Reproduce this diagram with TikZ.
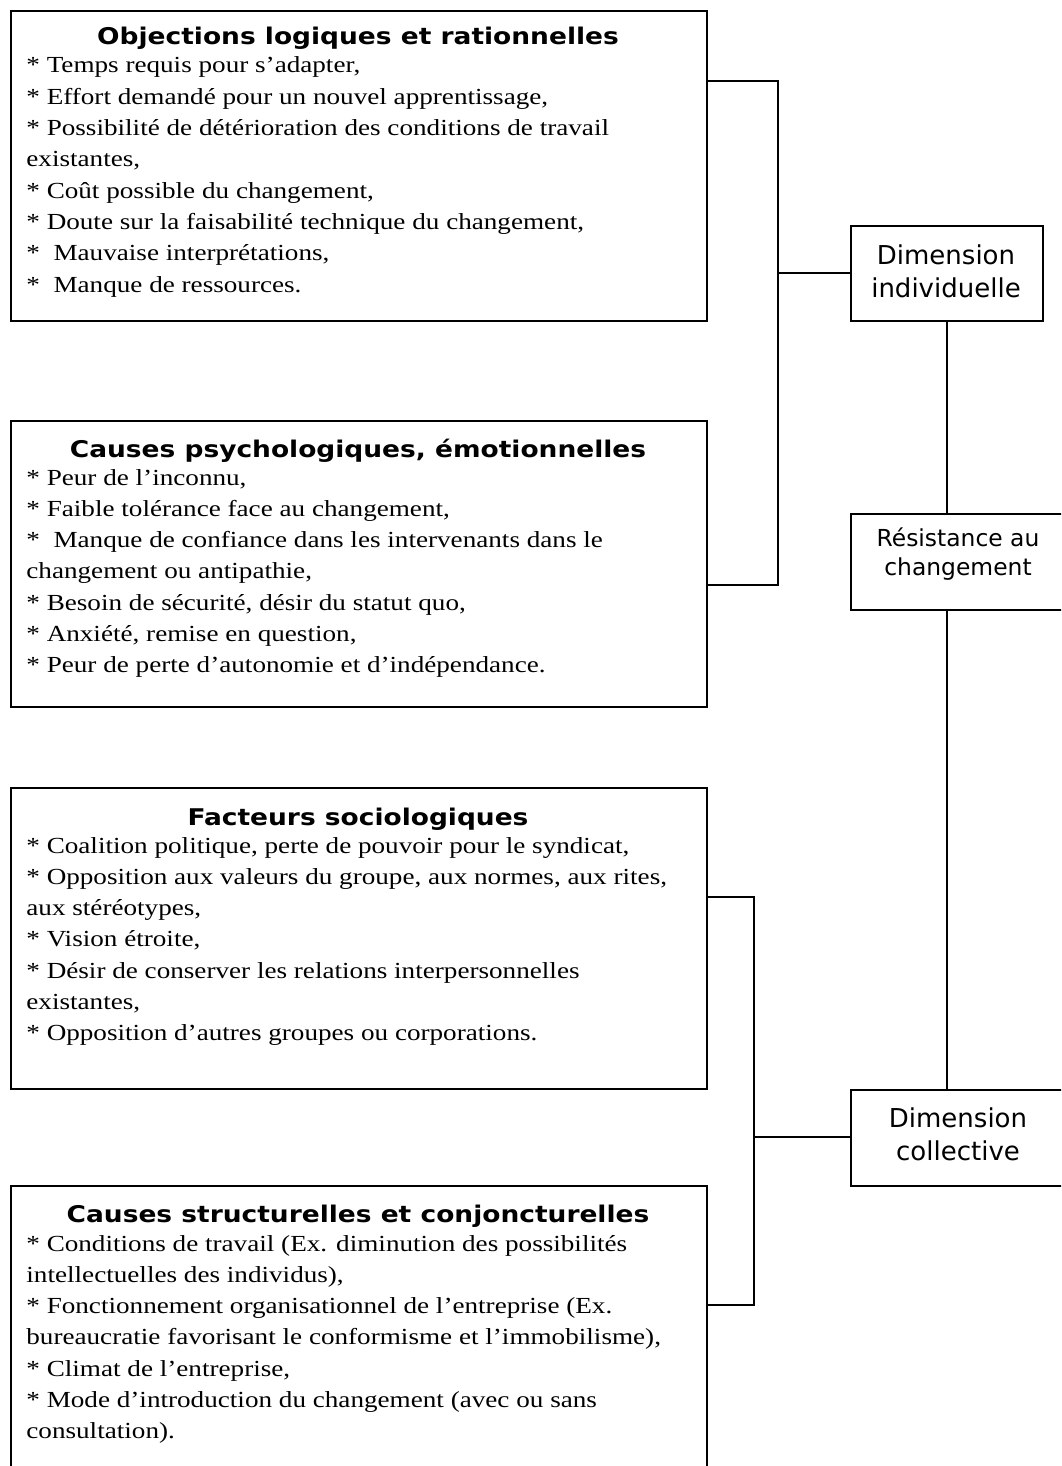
\documentclass[tikz,border=0pt]{standalone}
\usepackage{fontspec}
\setmainfont{Liberation Serif}
\newfontfamily\bodyfont[FakeStretch=1.18]{Liberation Serif}
\newfontfamily\titlefont[FakeStretch=1.15]{DejaVu Sans Bold}
\newfontfamily\headfont{DejaVu Sans}
\newcommand{\itemlist}[1]{\parbox[t]{345pt}{\bodyfont\fontsize{11.5}{15.65}\selectfont\raggedright #1}}
\begin{document}
\begin{tikzpicture}[x=0.5pt,y=-0.5pt,
  causebox/.style={draw,line width=1pt,rectangle,inner sep=0pt,anchor=north west,minimum width=348pt},
  dimbox/.style={draw,line width=1pt,rectangle,inner sep=0pt,anchor=north west},
  dimtext/.style={font=\headfont\fontsize{13}{16.5}\selectfont,align=center,inner sep=0pt},
  restext/.style={font=\headfont\fontsize{11.7}{14.3}\selectfont,align=center,inner sep=0pt},
  link/.style={line width=1pt},
  heading/.style={font=\titlefont\fontsize{11.5}{14}\selectfont,anchor=base,inner sep=0pt},
  items/.style={anchor=base west,inner sep=0pt},
]
\clip (0,0) rectangle (1061,1466);
\fill[white] (0,0) rectangle (1061,1466);

% cause boxes on the left
\node[causebox,minimum height=155pt] (o1) at (10,10) {};
\node[heading] (t1) at (358,45) {Objections logiques et rationnelles};
\node[items] (l1) at (26,73) {\itemlist{{*} Temps requis pour s’adapter,\\
{*} Effort demandé pour un nouvel apprentissage,\\
{*} Possibilité de détérioration des conditions de travail\\
existantes,\\
{*} Coût possible du changement,\\
{*} Doute sur la faisabilité technique du changement,\\
{*}~~Mauvaise interprétations,\\
{*}~~Manque de ressources.}};

\node[causebox,minimum height=143pt] (o2) at (10,420) {};
\node[heading] (t2) at (358,457) {Causes psychologiques, émotionnelles};
\node[items] (l2) at (26,485) {\itemlist{{*} Peur de l’inconnu,\\
{*} Faible tolérance face au changement,\\
{*}~~Manque de confiance dans les intervenants dans le\\
changement ou antipathie,\\
{*} Besoin de sécurité, désir du statut quo,\\
{*} Anxiété, remise en question,\\
{*} Peur de perte d’autonomie et d’indépendance.}};

\node[causebox,minimum height=150.5pt] (o3) at (10,787) {};
\node[heading] (t3) at (358,825) {Facteurs sociologiques};
\node[items] (l3) at (26,853) {\itemlist{{*} Coalition politique, perte de pouvoir pour le syndicat,\\
{*} Opposition aux valeurs du groupe, aux normes, aux rites,\\
aux stéréotypes,\\
{*} Vision étroite,\\
{*} Désir de conserver les relations interpersonnelles\\
existantes,\\
{*} Opposition d’autres groupes ou corporations.}};

\node[causebox,minimum height=152pt] (o4) at (10,1185) {};
\node[heading] (t4) at (358,1222) {Causes structurelles et conjoncturelles};
\node[items] (l4) at (26,1251) {\itemlist{{*} Conditions de travail (Ex. diminution des possibilités\\
intellectuelles des individus),\\
{*} Fonctionnement organisationnel de l’entreprise (Ex.\\
bureaucratie favorisant le conformisme et l’immobilisme),\\
{*} Climat de l’entreprise,\\
{*} Mode d’introduction du changement (avec ou sans\\
consultation).}};

% dimension boxes on the right
\node[dimbox,minimum width=96pt,minimum height=47.5pt] (dimind) at (850,225) {};
\node[dimtext] (dimindtxt) at (946,271) {Dimension\\individuelle};
\node[dimbox,minimum width=108pt,minimum height=48pt] (res) at (850,513) {};
\node[restext] (restxt) at (958,554) {Résistance au\\changement};
\node[dimbox,minimum width=108pt,minimum height=48pt] (dimcol) at (850,1089) {};
\node[dimtext] (dimcoltxt) at (958,1134) {Dimension\\collective};

% connectors
\coordinate (bus1) at (778,272.5);
\coordinate (bus2) at (754,1137);
\draw[link] ([yshift=-35.5pt]o1.north east) -| (bus1) |- ([yshift=-82.5pt]o2.north east);
\draw[link] (bus1) -- (bus1 -| dimind.west);
\draw[link] ([yshift=-55pt]o3.north east) -| (bus2) |- ([yshift=-60pt]o4.north east);
\draw[link] (bus2) -- (bus2 -| dimcol.west);
\draw[link] (dimind.south) -- (dimind.south |- res.north);
\draw[link] (dimind.south |- res.south) -- (dimind.south |- dimcol.north);
\end{tikzpicture}
\end{document}
